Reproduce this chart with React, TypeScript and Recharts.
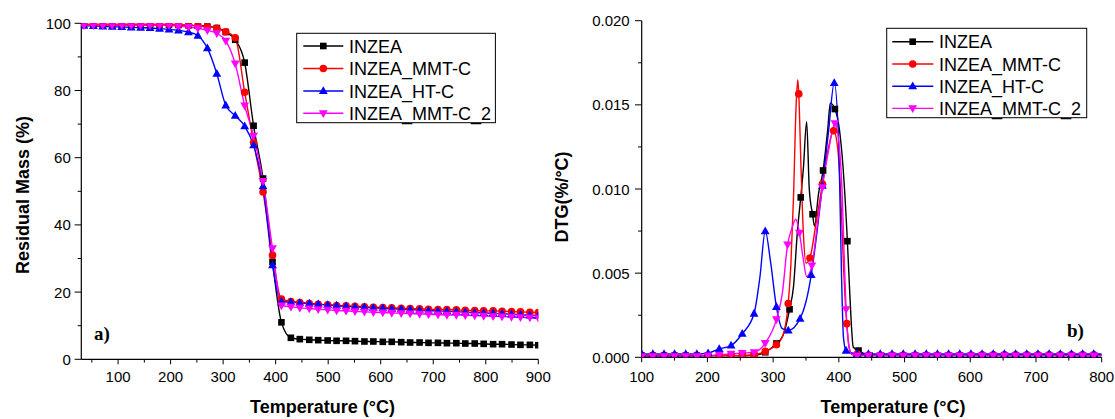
import React from 'react';
import { ComposedChart, Line, XAxis, YAxis } from 'recharts';

const SANS = '"Liberation Sans", Arial, Helvetica, sans-serif';
const SERIF = '"Liberation Serif", "Times New Roman", serif';

// ---------- series identity ----------
const seriesNames = ['INZEA', 'INZEA_MMT-C', 'INZEA_HT-C', 'INZEA_MMT-C_2'];
const seriesColors = ['#000000', '#ff0000', '#0000ff', '#ff00ff'];
const seriesShapes = ['square', 'circle', 'up', 'down'];

// ---------- (a) TGA: residual mass (%) vs temperature (°C) ----------
const tgaTemps = [35, 53, 71, 89, 107, 125, 143, 161, 179, 197, 215, 234, 252, 270, 288, 305, 323, 341, 358, 376, 394, 411, 429, 446, 464, 481, 499, 516, 534, 551, 569, 586, 604, 621, 639, 656, 674, 691, 709, 726, 744, 761, 779, 796, 814, 831, 849, 866, 884, 900];
const tgaInzea = [99.6, 99.6, 99.6, 99.6, 99.6, 99.6, 99.6, 99.6, 99.6, 99.6, 99.5, 99.4, 99.3, 99.1, 98.6, 97.4, 95.1, 88.3, 69.5, 53.8, 29.0, 11.0, 6.4, 6.0, 5.8, 5.7, 5.6, 5.5, 5.5, 5.4, 5.3, 5.3, 5.2, 5.2, 5.1, 5.0, 5.0, 4.9, 4.9, 4.8, 4.8, 4.7, 4.7, 4.6, 4.5, 4.5, 4.4, 4.3, 4.3, 4.2];
const tgaMmtC = [99.7, 99.7, 99.7, 99.7, 99.7, 99.7, 99.7, 99.7, 99.7, 99.7, 99.6, 99.4, 99.2, 99.0, 98.5, 97.5, 95.7, 79.5, 64.5, 49.8, 31.0, 17.9, 17.2, 16.9, 16.6, 16.4, 16.2, 16.0, 15.9, 15.8, 15.6, 15.5, 15.4, 15.3, 15.2, 15.1, 15.0, 14.9, 14.8, 14.8, 14.7, 14.6, 14.5, 14.4, 14.4, 14.3, 14.2, 14.1, 14.0, 13.9];
const tgaHtC = [99.3, 99.2, 99.1, 99.0, 98.9, 98.8, 98.7, 98.6, 98.4, 98.2, 97.9, 97.4, 96.3, 92.6, 85.0, 75.6, 72.5, 69.4, 63.7, 51.5, 28.0, 17.2, 17.0, 16.8, 16.6, 16.4, 16.2, 16.0, 15.8, 15.6, 15.5, 15.3, 15.2, 15.0, 14.9, 14.8, 14.6, 14.5, 14.4, 14.3, 14.2, 14.0, 13.9, 13.8, 13.7, 13.6, 13.4, 13.3, 13.1, 13.0];
const tgaMmtC2 = [99.4, 99.4, 99.4, 99.4, 99.4, 99.4, 99.4, 99.4, 99.4, 99.4, 99.2, 98.9, 98.5, 97.9, 97.0, 94.8, 88.0, 75.5, 66.5, 53.0, 33.0, 16.0, 15.6, 15.3, 15.1, 14.9, 14.7, 14.5, 14.4, 14.3, 14.1, 14.0, 13.9, 13.8, 13.7, 13.6, 13.5, 13.4, 13.3, 13.2, 13.2, 13.1, 13.0, 12.9, 12.8, 12.7, 12.6, 12.5, 12.4, 12.3];

const tgaXMajor = [100, 200, 300, 400, 500, 600, 700, 800, 900];
const tgaXMinor = [50, 150, 250, 350, 450, 550, 650, 750, 850];
const tgaYMajor = [0, 20, 40, 60, 80, 100];
const tgaYMinor = [10, 30, 50, 70, 90];

// ---------- (b) DTG (%/°C) vs temperature (°C) ----------
// symbol points [T, DTG]
const dtgInzeaMarks = [[100, 0.0001], [117, 0.0001], [134, 0.0001], [150, 0.0001], [167, 0.0001], [184, 0.0001], [201, 0.0001], [218, 0.0001], [236, 0.0001], [253, 0.0001], [271, 0.00012], [288, 0.0003], [305, 0.00082], [325, 0.00285], [342, 0.0095], [360, 0.0085], [376, 0.0111], [394, 0.01475], [413, 0.0069], [430, 0.0004], [447, 0.0001], [464, 0.0001], [481, 0.0001], [498, 0.0001], [516, 0.0001], [533, 0.0001], [550, 0.0001], [567, 0.0001], [584, 0.0001], [601, 0.0001], [618, 0.0001], [635, 0.0001], [652, 0.0001], [669, 0.0001], [686, 0.0001], [703, 0.0001], [720, 0.0001], [737, 0.0001], [754, 0.0001], [771, 0.0001], [788, 0.0001]];
// additional curve points between symbols [T, DTG]
const dtgInzeaBends = [[315, 0.0013], [331, 0.0042], [337, 0.0075], [346, 0.0112], [351, 0.014], [355, 0.01], [363, 0.0078], [369, 0.0097], [383, 0.0135], [387, 0.0151], [401, 0.0135], [406, 0.0115], [417, 0.0035], [422, 0.0006], [800, 0.0001]];

const dtgMmtCMarks = [[100, 0.0001], [117, 0.0001], [134, 0.0001], [150, 0.0001], [167, 0.0001], [184, 0.0001], [201, 0.0001], [218, 0.0001], [236, 0.0001], [253, 0.0001], [271, 0.00015], [288, 0.00035], [305, 0.00075], [323, 0.0032], [339, 0.01565], [356, 0.0059], [375, 0.0103], [392, 0.01346], [412, 0.002], [428, 0.0002], [445, 0.00012], [463, 0.00012], [481, 0.00012], [498, 0.00012], [516, 0.00012], [533, 0.00012], [550, 0.00012], [567, 0.00012], [584, 0.00012], [601, 0.00012], [618, 0.00015], [635, 0.00015], [652, 0.00015], [669, 0.00015], [686, 0.00015], [703, 0.00015], [720, 0.00015], [737, 0.00015], [754, 0.00015], [771, 0.00015], [788, 0.00015]];
const dtgMmtCBends = [[314, 0.0012], [327, 0.0055], [331, 0.0095], [335, 0.015], [337.5, 0.0165], [342.5, 0.0112], [346, 0.0074], [350, 0.0056], [365, 0.0079], [384, 0.0124], [398, 0.0125], [403, 0.0095], [407, 0.0055], [416, 0.0005], [421, 0.00015], [800, 0.00015]];

const dtgHtCMarks = [[100, 0.0002], [117, 0.0002], [134, 0.0002], [150, 0.0002], [167, 0.0002], [184, 0.0002], [201, 0.00025], [218, 0.0005], [236, 0.0007], [253, 0.0014], [271, 0.0026], [288, 0.0075], [305, 0.003], [323, 0.0016], [341, 0.0023], [358, 0.0049], [375, 0.0102], [393, 0.0163], [411, 0.0004], [428, 0.0002], [445, 0.0002], [463, 0.0002], [481, 0.0002], [498, 0.0002], [516, 0.0002], [533, 0.0002], [550, 0.0002], [567, 0.0002], [584, 0.0002], [601, 0.0002], [618, 0.0002], [635, 0.0002], [652, 0.0002], [669, 0.0002], [686, 0.0002], [703, 0.0002], [720, 0.0002], [737, 0.0002], [754, 0.0002], [771, 0.0002], [788, 0.0002]];
const dtgHtCBends = [[280, 0.0048], [296, 0.0057], [314, 0.0017], [350, 0.0033], [366, 0.0072], [384, 0.0133], [400, 0.0125], [404, 0.005], [407, 0.0012], [800, 0.0002]];

const dtgMmtC2Marks = [[100, 0.00005], [117, 0.00005], [134, 0.00005], [150, 0.00005], [167, 0.00005], [184, 0.00005], [201, 0.0001], [218, 0.00015], [236, 0.0002], [253, 0.00025], [271, 0.0003], [288, 0.00084], [305, 0.00225], [322, 0.0067], [340, 0.0074], [359, 0.00545], [375, 0.0101], [394, 0.0139], [411, 0.00285], [428, 0.0001], [445, 0.0001], [463, 0.0001], [481, 0.0001], [498, 0.0001], [516, 0.0001], [533, 0.0001], [550, 0.0001], [567, 0.0001], [584, 0.0001], [601, 0.0001], [618, 0.0001], [635, 0.0001], [652, 0.0001], [669, 0.0001], [686, 0.0001], [703, 0.0001], [720, 0.0001], [737, 0.0001], [754, 0.0001], [771, 0.0001], [788, 0.0001]];
const dtgMmtC2Bends = [[314, 0.0038], [328, 0.0076], [334.5, 0.0082], [346, 0.0058], [351, 0.0048], [367, 0.0078], [384, 0.0122], [400, 0.0128], [405, 0.0098], [408, 0.0062], [415, 0.0008], [419, 0.0002], [800, 0.0001]];

const dtgXMajor = [100, 200, 300, 400, 500, 600, 700, 800];
const dtgXMinor = [150, 250, 350, 450, 550, 650, 750];
const dtgYMajor = [0, 0.005, 0.01, 0.015, 0.02];
const dtgYMinor = [0.0025, 0.0075, 0.0125, 0.0175];

// ---------- helpers ----------
type Row = { t: number; v: number };
const fromColumns = (temps: number[], vals: number[]): Row[] => temps.map((t, i) => ({ t, v: vals[i] }));
const fromPairs = (pairs: number[][]): Row[] => pairs.map(([t, v]) => ({ t, v }));
const curveOf = (marks: number[][], bends: number[][]): Row[] =>
  [...fromPairs(marks), ...fromPairs(bends)].sort((a, b) => a.t - b.t);
const sorted = (a: number[], b: number[]) => [...a, ...b].sort((x, y) => x - y);

const tgaSeries = [tgaInzea, tgaMmtC, tgaHtC, tgaMmtC2].map((vals) => fromColumns(tgaTemps, vals));
const dtgMarks = [dtgInzeaMarks, dtgMmtCMarks, dtgHtCMarks, dtgMmtC2Marks].map(fromPairs);
const dtgCurves = [
  curveOf(dtgInzeaMarks, dtgInzeaBends),
  curveOf(dtgMmtCMarks, dtgMmtCBends),
  curveOf(dtgHtCMarks, dtgHtCBends),
  curveOf(dtgMmtC2Marks, dtgMmtC2Bends),
];

function markerShape(shape: string, cx: number, cy: number, color: string, key?: any) {
  if (shape === 'square') return <rect key={key} x={cx - 3.3} y={cy - 3.3} width={6.6} height={6.6} fill={color} />;
  if (shape === 'circle') return <circle key={key} cx={cx} cy={cy} r={3.8} fill={color} />;
  if (shape === 'up')
    return <polygon key={key} points={`${cx},${cy - 4.7} ${cx + 4.4},${cy + 3.1} ${cx - 4.4},${cy + 3.1}`} fill={color} />;
  return <polygon key={key} points={`${cx - 4.4},${cy - 3.1} ${cx + 4.4},${cy - 3.1} ${cx},${cy + 4.7}`} fill={color} />;
}

const makeDot = (shape: string, color: string) => (props: any) => {
  const { cx, cy, index } = props;
  if (cx == null || cy == null || isNaN(cx) || isNaN(cy)) return <g key={`n${index}`} />;
  return markerShape(shape, cx, cy, color, `d${index}`);
};

const xTick = (majors: number[], labelY: number, fmt: (v: number) => string) => (props: any) => {
  const { x, y, payload, index } = props;
  const major = majors.includes(payload.value);
  return (
    <g key={`xt${index}`}>
      <line x1={x} x2={x} y1={y} y2={y + (major ? 5 : 3.3)} stroke="#000" strokeWidth={1} />
      {major && (
        <text x={x} y={labelY} textAnchor="middle" dominantBaseline="central" fontFamily={SANS} fontSize={15} fill="#000">
          {fmt(payload.value)}
        </text>
      )}
    </g>
  );
};

const yTick = (majors: number[], gap: number, fmt: (v: number) => string) => (props: any) => {
  const { x, y, payload, index } = props;
  const major = majors.includes(payload.value);
  return (
    <g key={`yt${index}`}>
      <line x1={x - (major ? 6.7 : 3.6)} x2={x} y1={y} y2={y} stroke="#000" strokeWidth={1} />
      {major && (
        <text x={x - gap} y={y} textAnchor="end" dominantBaseline="central" fontFamily={SANS} fontSize={15} fill="#000">
          {fmt(payload.value)}
        </text>
      )}
    </g>
  );
};

const titleText = (text: string, x: number, y: number, rotate = false) => () =>
  (
    <text
      x={x}
      y={y}
      transform={rotate ? `rotate(-90 ${x} ${y})` : undefined}
      textAnchor="middle"
      dominantBaseline="central"
      fontFamily={SANS}
      fontSize={18}
      fontWeight="bold"
      fill="#000"
    >
      {text}
    </text>
  );

const axisLine = { stroke: '#000', strokeWidth: 1.2 };

function LegendBox({ x, y, w, h, rowYs, lineX1, lineX2, markX, textX }: any) {
  return (
    <g>
      <rect x={x} y={y} width={w} height={h} fill="#fff" stroke="#000" strokeWidth={1} />
      {seriesNames.map((name, i) => (
        <g key={name}>
          <line x1={lineX1} x2={lineX2} y1={rowYs[i]} y2={rowYs[i]} stroke={seriesColors[i]} strokeWidth={1.4} />
          {markerShape(seriesShapes[i], markX, rowYs[i], seriesColors[i])}
          <text x={textX} y={rowYs[i] + 0.5} dominantBaseline="central" fontFamily={SANS} fontSize={18} fill="#000">
            {name}
          </text>
        </g>
      ))}
    </g>
  );
}

export default function App() {
  const leftBottom = 359.3;
  const rightBottom = 357.3;
  return (
    <div style={{ position: 'absolute', left: 0, top: 0, width: 1115, height: 419, background: '#fff', fontFamily: SANS }}>
      <style>{'.recharts-surface{overflow:visible}'}</style>
      {/* (a) TGA */}
      <div style={{ position: 'absolute', left: 0, top: 0 }}>
        <ComposedChart width={560} height={419} margin={{ top: 23.3, right: 21.7, bottom: 0, left: 0 }}>
          <XAxis
            xAxisId="b"
            dataKey="t"
            type="number"
            domain={[30, 900]}
            allowDataOverflow
            ticks={sorted(tgaXMajor, tgaXMinor)}
            interval={0}
            height={419 - leftBottom}
            tickLine={false}
            tickSize={0}
            tickMargin={0}
            axisLine={axisLine}
            tick={xTick(tgaXMajor, 376 - leftBottom + leftBottom, (v) => String(v)) as any}
            label={{ value: 'Temperature (°C)', content: titleText('Temperature (°C)', 322.5, 407) } as any}
          />
          <XAxis xAxisId="top" orientation="top" type="number" domain={[30, 900]} height={0} tick={false} tickLine={false} axisLine={axisLine} />
          <YAxis
            yAxisId="l"
            type="number"
            domain={[0, 100]}
            allowDataOverflow
            ticks={sorted(tgaYMajor, tgaYMinor)}
            interval={0}
            width={81.3}
            tickLine={false}
            tickSize={0}
            tickMargin={0}
            axisLine={axisLine}
            tick={yTick(tgaYMajor, 10.5, (v) => String(v)) as any}
            label={{ value: 'Residual Mass (%)', content: titleText('Residual Mass (%)', 22.5, 195, true) } as any}
          />
          <YAxis yAxisId="r" orientation="right" type="number" domain={[0, 100]} width={0} tick={false} tickLine={false} axisLine={axisLine} />
          {tgaSeries.map((rows, i) => (
            <Line
              key={seriesNames[i]}
              xAxisId="b"
              yAxisId="l"
              data={rows}
              dataKey="v"
              type="monotone"
              stroke={seriesColors[i]}
              strokeWidth={1.4}
              dot={makeDot(seriesShapes[i], seriesColors[i]) as any}
              activeDot={false}
              isAnimationActive={false}
            />
          ))}
        </ComposedChart>
      </div>

      {/* (b) DTG */}
      <div style={{ position: 'absolute', left: 560, top: 0 }}>
        <ComposedChart width={555} height={419} margin={{ top: 20.7, right: 13.3, bottom: 0, left: 0 }}>
          <XAxis
            xAxisId="b"
            dataKey="t"
            type="number"
            domain={[100, 800]}
            allowDataOverflow
            ticks={sorted(dtgXMajor, dtgXMinor)}
            interval={0}
            height={419 - rightBottom}
            tickLine={false}
            tickSize={0}
            tickMargin={0}
            axisLine={axisLine}
            tick={xTick(dtgXMajor, 376.5, (v) => String(v)) as any}
            label={{ value: 'Temperature (°C)', content: titleText('Temperature (°C)', 333, 407) } as any}
          />
          <XAxis xAxisId="top" orientation="top" type="number" domain={[100, 800]} height={0} tick={false} tickLine={false} axisLine={axisLine} />
          <YAxis
            yAxisId="l"
            type="number"
            domain={[0, 0.02]}
            allowDataOverflow
            ticks={sorted(dtgYMajor, dtgYMinor)}
            interval={0}
            width={81.7}
            tickLine={false}
            tickSize={0}
            tickMargin={0}
            axisLine={axisLine}
            tick={yTick(dtgYMajor, 12, (v) => v.toFixed(3)) as any}
            label={{ value: 'DTG(%/°C)', content: titleText('DTG(%/°C)', 1.7, 197, true) } as any}
          />
          <YAxis yAxisId="r" orientation="right" type="number" domain={[0, 0.02]} width={0} tick={false} tickLine={false} axisLine={axisLine} />
          {dtgCurves.map((rows, i) => [
            <Line
              key={`c${i}`}
              xAxisId="b"
              yAxisId="l"
              data={rows}
              dataKey="v"
              type="monotone"
              stroke={seriesColors[i]}
              strokeWidth={1.4}
              dot={false}
              activeDot={false}
              isAnimationActive={false}
            />,
            <Line
              key={`m${i}`}
              xAxisId="b"
              yAxisId="l"
              data={dtgMarks[i]}
              dataKey="v"
              type="monotone"
              stroke="none"
              dot={makeDot(seriesShapes[i], seriesColors[i]) as any}
              activeDot={false}
              isAnimationActive={false}
            />,
          ])}
        </ComposedChart>
      </div>

      {/* legends and panel letters */}
      <svg width={1115} height={419} style={{ position: 'absolute', left: 0, top: 0, pointerEvents: 'none', overflow: 'visible' }}>
        <LegendBox x={296.7} y={33.3} w={198.7} h={89.4} rowYs={[46, 68.5, 91, 113.3]} lineX1={303.3} lineX2={343.3} markX={323.3} textX={349} />
        <LegendBox x={886.7} y={28.3} w={200} h={89.4} rowYs={[41.7, 64, 86.2, 108.4]} lineX1={892.3} lineX2={933.3} markX={912.7} textX={939} />
        <text x={94} y={333} dominantBaseline="central" fontFamily={SERIF} fontWeight="bold" fontSize={19} fill="#000">
          a)
        </text>
        <text x={1067} y={330} dominantBaseline="central" fontFamily={SERIF} fontWeight="bold" fontSize={19} fill="#000">
          b)
        </text>
      </svg>
    </div>
  );
}
